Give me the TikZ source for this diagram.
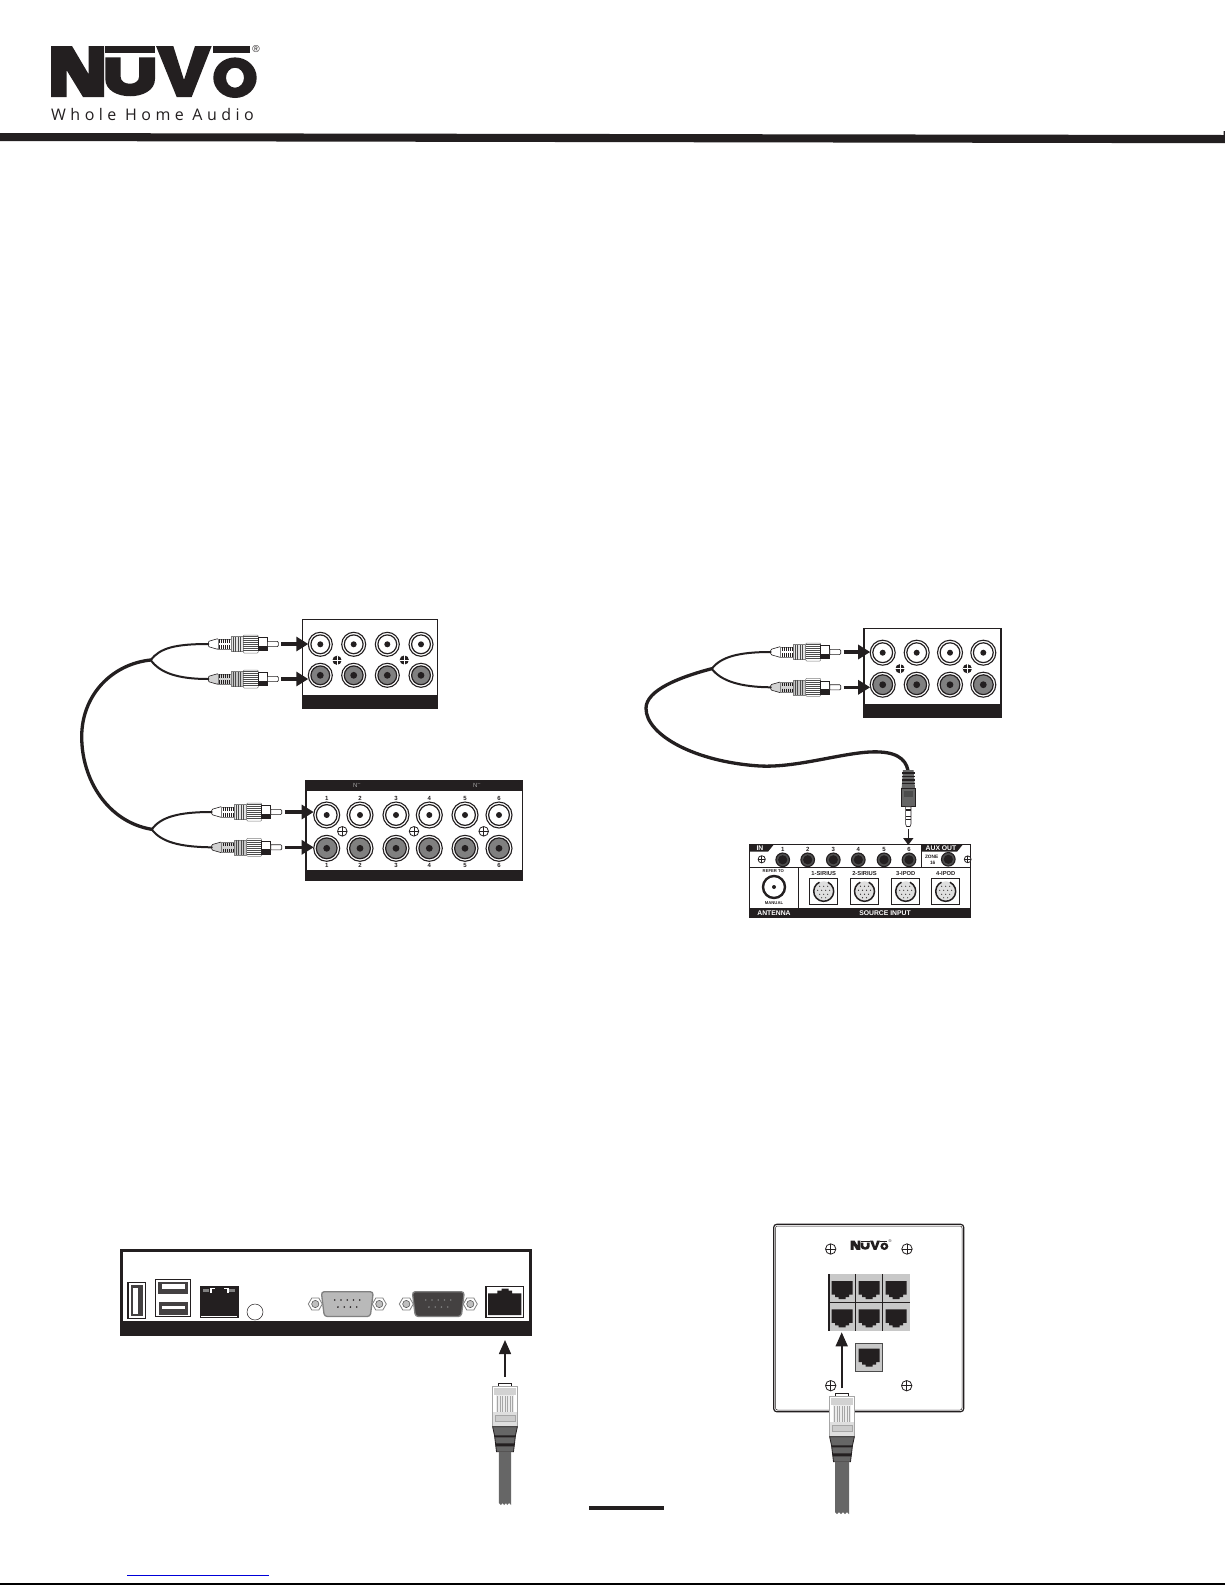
\documentclass[tikz,border=0pt]{standalone}
\usepackage{fontspec}
\setmainfont{Liberation Sans}
\newfontfamily\logofont[LetterSpace=28]{Open Sans}
\usetikzlibrary{arrows.meta}
\definecolor{ink}{HTML}{231F20}
\definecolor{jackgray}{HTML}{808080}
\definecolor{cablegray}{HTML}{666666}
\definecolor{plategray}{HTML}{C8C8C8}
\tikzset{
  panel/.style={draw=ink,line width=1.5pt,fill=white},
  blackbar/.style={fill=ink,draw=none},
  wire/.style={draw=ink,line width=2pt,line cap=round},
  mainwire/.style={draw=ink,line width=3.3pt,line cap=round},
  fatarrow/.style={draw=ink,line width=3.2pt,-{Triangle[length=12pt,width=14pt]},shorten <=3pt},
  thinarrow/.style={draw=ink,line width=1.6pt,-{Triangle[length=14pt,width=12pt]}},
  miniarrow/.style={draw=ink,line width=1.6pt,-{Triangle[length=7pt,width=10pt]}},
  lab/.style={font=\fontsize{5.8}{6}\selectfont\bfseries,text=ink,inner sep=0pt},
  wlab/.style={font=\fontsize{6.8}{7}\selectfont\bfseries,text=white,inner sep=0pt},
  num/.style={font=\fontsize{6}{6}\selectfont\bfseries,text=ink,inner sep=0pt},
  jacknode/.style={circle,draw=ink,line width=1.1pt,inner sep=0pt,outer sep=0pt},
}
% white RCA jack: name,x,y,r
\newcommand\rcaW[4]{%
  \node[jacknode,fill=white,minimum size=#4*2pt] (#1) at (#2,#3) {};
  \draw[ink,line width=1.2pt] (#2,#3) circle[radius=#4-2.6];
  \fill[ink] (#2,#3) circle[radius=3];}
% gray RCA jack
\newcommand\rcaG[4]{%
  \node[jacknode,fill=white,minimum size=#4*2pt] (#1) at (#2,#3) {};
  \draw[ink,line width=1.2pt,fill=jackgray] (#2,#3) circle[radius=#4-2.6];
  \fill[ink] (#2,#3) circle[radius=3.4];}
% screws
\newcommand\screwB[2]{%
  \fill[ink] (#1,#2) circle[radius=4.6];
  \draw[white,line width=.9pt] (#1-4.6,#2) -- (#1+4.6,#2) (#1,#2-4.6) -- (#1,#2+4.6);}
\newcommand\screwO[3]{%
  \draw[ink,line width=.8pt,fill=white] (#1,#2) circle[radius=#3];
  \draw[ink,line width=.9pt] (#1-#3,#2) -- (#1+#3,#2) (#1,#2-#3) -- (#1,#2+#3);}
% RCA plug: name,x,y,boot colour,fin colour
\newcommand\rcaplug[5]{%
  \begin{scope}[shift={(#2,#3)}]
    \coordinate (#1-tail) at (0,0);
    \coordinate (#1-tip) at (70,0);
    \draw[ink,line width=.6pt,fill=#4,rounded corners=1pt] (0,-2.6) -- (10,-5.5) -- (10,5.5) -- (0,2.6) -- cycle;
    \draw[gray,line width=.5pt,fill=#4] (10,-5) rectangle (23,5);
    \foreach \q in {11.5,13.5,...,21.5}{
      \draw[ink,line width=1pt] (\q,-4.6) -- (\q,-1.4) (\q,1.4) -- (\q,4.6);}
    \draw[gray,line width=.5pt,fill=#5] (23,-7.5) rectangle (35,7.5);
    \foreach \q in {24.5,27,...,34.5}{
      \draw[gray!60!black,line width=.5pt] (\q,-7.5) -- (\q,7.5);}
    \draw[gray,line width=.5pt,fill=white,rounded corners=1pt] (35,-9) rectangle (50,9);
    \foreach \q in {-7.5,-5.5,...,8}{
      \draw[gray!60!black,line width=.5pt] (35,\q) -- (50,\q);}
    \draw[ink,line width=.6pt,fill=white] (50,-6.5) rectangle (59,6.5);
    \fill[ink] (50,2) rectangle (59,6.5);
    \draw[ink,line width=.6pt,fill=white] (59,-2.6) -- (69,-2.6) -- (70,-1.6) -- (70,1.6) -- (69,2.6) -- (59,2.6) -- cycle;
  \end{scope}}
% NUVO logo
\newcommand\nuvologo[3]{%
  \begin{scope}[shift={(#1,#2)},scale=#3]
    \fill[ink] (0,0) -- (21,0) -- (37.5,28) -- (37.5,0) -- (53,0) -- (53,51) -- (32,51) -- (15.5,24) -- (15.5,51) -- (0,51) -- cycle;
    \fill[ink] (54.3,0) rectangle (104,7.3);
    \fill[ink] (54.3,11.3) -- (69.7,11.3) -- (69.7,31) .. controls (69.7,40) and (88,40) .. (88,31) -- (88,11.3) -- (104,11.3) -- (104,33) .. controls (104,56) and (54.3,56) .. (54.3,33) -- cycle;
    \fill[ink] (105,0) -- (122.3,0) -- (133,34) -- (144,0) -- (160.7,0) -- (140.7,51) -- (125.7,51) -- cycle;
    \fill[ink] (162.3,0) rectangle (199,7.3);
    \fill[ink,even odd rule] (184,31.7) ellipse[x radius=21.7,y radius=20.3] (184,31.7) ellipse[x radius=9,y radius=10];
  \end{scope}}
% RJ45 plug: name, centre x, top y, cable end y, cable half width
\newcommand\rjplug[5]{%
  \begin{scope}[shift={(#2,#3)}]
    \coordinate (#1-top) at (0,0);
    \draw[ink,line width=.7pt,fill=white] (-6.2,0) rectangle (6.2,3.4);
    \draw[gray!70,line width=.6pt,fill=white] (-12.4,3.2) rectangle (12.4,43.4);
    \fill[gray!35] (-11,4.5) rectangle (11,12);
    \fill[gray!15] (-9,12) rectangle (9,29);
    \foreach \q in {-7.5,-5,...,8}{\draw[gray!70,line width=.6pt] (\q,13) -- (\q,29);}
    \fill[gray!25] (-12,29) rectangle (12,43);
    \draw[gray!70,line width=.5pt,fill=gray!40] (-10,31.5) rectangle (10,37.5);
    \draw[ink,line width=.8pt,fill=cablegray] (-12.4,43.4) -- (12.4,43.4) -- (10.5,52) -- (8.5,68.4) -- (-8.5,68.4) -- (-10.5,52) -- cycle;
    \fill[ink] (-10.5,52) -- (10.5,52) -- (10,54) -- (-10,54) -- cycle;
    \fill[ink] (-9.5,60) -- (9.5,60) -- (9.2,63) -- (-9.2,63) -- cycle;
    \fill[cablegray] (-#5,68.4) -- (#5,68.4) -- (#5,#4-#3) -- (#5-2,#4-#3-2) -- (#5-4,#4-#3) -- (1,#4-#3-2) -- (-1,#4-#3) -- (-#5+4,#4-#3-2) -- (-#5+2,#4-#3) -- (-#5,#4-#3-2) -- cycle;
  \end{scope}}
% wall-plate hole
\newcommand\wallhole[2]{%
  \fill[ink,shift={(#1,#2)}] (-10.5,-8) -- (10.5,-8) -- (10.5,5.5) -- (7,5.5) -- (7,8) -- (3.5,8) -- (3.5,10) -- (-3.5,10) -- (-3.5,8) -- (-7,8) -- (-7,5.5) -- (-10.5,5.5) -- cycle;}
% 3.5mm jack
\newcommand\minijack[3]{%
  \node[jacknode,fill=jackgray!60!black,minimum size=13.6pt] (#1) at (#2,#3) {};
  \fill[ink] (#2,#3) circle[radius=4.6];}
% DIN port: centre x, half width
\newcommand\dinport[2]{%
  \draw[ink,line width=.9pt,fill=white] (#1-#2,878.3) rectangle (#1+#2,904.3);
  \fill[gray!25] (#1,891.3) circle[radius=10];
  \draw[ink,line width=1.5pt] (#1,891.3) ++(-65:10) arc[start angle=-65,end angle=245,radius=10];
  \foreach \q/\r in {-4/-5,0/-5,4/-5,-6/-1,-2/-1,2/-1,6/-1,-4/3,0/3,4/3,-2/6.5,2/6.5}{
    \fill[ink] (#1+\q,891.3+\r) circle[radius=.6];}}
% DB9: cx, fill, dot colour
\newcommand\dbnine[3]{%
  \draw[gray,line width=1.3pt,fill=#2,rounded corners=3pt] (#1-26,1291.7) -- (#1+26,1291.7) -- (#1+23,1316.5) -- (#1-23,1316.5) -- cycle;
  \foreach \q in {-12.5,-6.25,0,6.25,12.5}{\fill[#3] (#1+\q,1300) circle[radius=.9];}
  \foreach \q in {-9.4,-3.1,3.1,9.4}{\fill[#3] (#1+\q,1307) circle[radius=.9];}
  \foreach \q in {-32,32}{
    \draw[gray,line width=.8pt,fill=white,shift={(#1+\q,1304)}] (-7,0) -- (-3.5,-6) -- (3.5,-6) -- (7,0) -- (3.5,6) -- (-3.5,6) -- cycle;
    \draw[gray!70!black,line width=.6pt,fill=gray!50] (#1+\q,1304) circle[radius=3.6];}}
\begin{document}
\begin{tikzpicture}[x=1pt,y=-1pt]
\useasboundingbox (0,0) rectangle (1225,1585);
\fill[white] (0,0) rectangle (1225,1585);
%% header
\nuvologo{51}{46}{1}
\node[inner sep=0pt,text=ink,font=\fontsize{10}{10}\selectfont] (reg) at (256,49) {®};
\node[anchor=base west,inner sep=0pt,text=ink,font=\logofont\fontsize{16}{16}\selectfont] (tagline) at (51,120.5) {Whole Home Audio};
\fill[ink] (0,133) -- (1223.5,135) -- (1223.5,131) -- (1225,131) -- (1225,143.2) -- (0,141) -- cycle;
%% panel A
\draw[panel] (302.3,619.3) rectangle (437.7,708.7);
\fill[blackbar] (302.3,695) rectangle (437.7,708.7);
\rcaW{a1}{320.3}{644.3}{12}\rcaW{a2}{353.7}{644.3}{12}\rcaW{a3}{387.3}{644.3}{12}\rcaW{a4}{421}{644.3}{12}
\rcaG{a5}{320.3}{675.3}{12}\rcaG{a6}{353.7}{675.3}{12}\rcaG{a7}{387.3}{675.3}{12}\rcaG{a8}{421}{675.3}{12}
\screwB{337}{660.3}\screwB{404.3}{660}
%% panel B
\draw[panel] (306,781) rectangle (522.7,880.7);
\fill[blackbar] (306,781) rectangle (522.7,790.7);
\fill[blackbar] (306,870) rectangle (522.7,880.7);
\node[inner sep=0pt,text=gray!70,font=\fontsize{6}{6}\selectfont] (bin1) at (357,785.6) {N\textsuperscript{--}};
\node[inner sep=0pt,text=gray!70,font=\fontsize{6}{6}\selectfont] (bin2) at (477,785.6) {N\textsuperscript{--}};
\foreach \n/\xx/\s in {1/326.7/1,2/360/2,3/396/3,4/429.3/4,5/465/5,6/499/6}{
  \rcaW{bt\n}{\xx}{815}{13}
  \rcaG{bb\n}{\xx}{848.3}{13}
  \node[num] (btl\n) at (\xx,798.3) {\s};
  \node[num] (bbl\n) at (\xx,865.8) {\s};
}
\screwO{342.3}{831.3}{4.8}\screwO{414}{831.3}{4.8}\screwO{483.7}{831.3}{4.8}
%% plugs and cable, left
\rcaplug{p1}{208.3}{644}{white}{gray!20}
\rcaplug{p2}{208.3}{679}{gray!35}{gray!45}
\rcaplug{p3}{211.7}{812}{white}{gray!20}
\rcaplug{p4}{211.7}{847.3}{gray!35}{gray!45}
\coordinate (j1) at (150.7,660);
\coordinate (j2) at (151.7,829.3);
\draw[wire] (j1) .. controls (160,648) and (175,644) .. (p1-tail);
\draw[wire] (j1) .. controls (160,673) and (178,679) .. (p2-tail);
\draw[wire] (j2) .. controls (161,817) and (178,812) .. (p3-tail);
\draw[wire] (j2) .. controls (161,842) and (180,847) .. (p4-tail);
\draw[mainwire] (j1) .. controls (112,664) and (81.7,695) .. (81.7,736.7) .. controls (81.7,780) and (108,822) .. (j2);
\draw[fatarrow] (p1-tip) -- (p1-tip -| a1.west);
\draw[fatarrow] (p2-tip) -- (p2-tip -| a5.west);
\draw[fatarrow] (p3-tip) -- (p3-tip -| bt1.west);
\draw[fatarrow] (p4-tip) -- (p4-tip -| bb1.west);
%% panel C
\draw[panel] (864,628.3) rectangle (1001,717.7);
\fill[blackbar] (864,704) rectangle (1001,717.7);
\rcaW{c1}{882.7}{652.7}{12.5}\rcaW{c2}{916.7}{652.7}{12.5}\rcaW{c3}{950}{652.7}{12.5}\rcaW{c4}{983.3}{652.7}{12.5}
\rcaG{c5}{882.7}{684.7}{12.5}\rcaG{c6}{916.7}{684.7}{12.5}\rcaG{c7}{950}{684.7}{12.5}\rcaG{c8}{983.3}{684.7}{12.5}
\screwB{900}{668.7}\screwB{967.3}{668.7}
\rcaplug{p5}{770.7}{652}{white}{gray!20}
\rcaplug{p6}{770.7}{687.3}{gray!35}{gray!45}
\coordinate (j3) at (711.7,668.7);
\coordinate (mt) at (908.3,775);
\draw[wire] (j3) .. controls (721,657) and (738,652) .. (p5-tail);
\draw[wire] (j3) .. controls (721,681) and (740,687) .. (p6-tail);
\draw[mainwire] (j3) .. controls (680,677) and (646,690) .. (646,708.3) .. controls (646,735) and (695,762) .. (760,766) .. controls (800,768) and (850,750) .. (880,752) .. controls (900,753) and (908.3,762) .. (mt);
\draw[fatarrow] (p5-tip) -- (p5-tip -| c1.west);
\draw[fatarrow] (p6-tip) -- (p6-tip -| c5.west);
% mini plug
\fill[cablegray] (903,770) -- (913.6,770) -- (915,788.5) -- (901.6,788.5) -- cycle;
\foreach \q in {773,776.5,780,783.5}{\draw[ink,line width=1.2pt] (902,\q) -- (914.5,\q);}
\draw[ink,line width=.7pt,fill=cablegray] (901.2,788.3) rectangle (915.4,806.7);
\fill[gray!60!black] (903.5,790.5) rectangle (913,797);
\draw[ink,line width=.6pt,fill=white] (905.6,806.7) -- (911,806.7) -- (911,824) -- (910,826.5) -- (906.6,826.5) -- (905.6,824) -- cycle;
\draw[ink,line width=1.2pt] (905.6,810) -- (911,810);
\draw[ink,line width=.8pt] (905.6,816) -- (911,816) (905.6,819) -- (911,819);
\coordinate (mtip) at (908.3,829);
\coordinate (dtop) at (908.3,845);
%% panel D
\draw[ink,line width=1.3pt,fill=white] (749.3,844.3) rectangle (970.7,917.7);
\fill[blackbar] (749.3,907.7) rectangle (970.7,917.7);
\fill[ink] (749.3,844.3) -- (774,844.3) -- (768,851.7) -- (749.3,851.7) -- cycle;
\fill[ink] (921.7,844.3) -- (963,844.3) -- (957,851.7) -- (921.7,851.7) -- cycle;
\draw[ink,line width=1pt] (749.3,867.7) -- (970.7,867.7);
\draw[ink,line width=1pt] (921.7,844.3) -- (921.7,867.7);
\draw[ink,line width=1pt] (798.3,867.7) -- (798.3,907.7);
\node[wlab] (dIN) at (760,848) {IN};
\node[wlab] (dAUX) at (941,848) {AUX OUT};
\node[font=\fontsize{4.8}{5}\selectfont\bfseries,text=ink,inner sep=0pt] (dzone) at (931.7,856.7) {ZONE};
\node[font=\fontsize{4.8}{5}\selectfont\bfseries,text=ink,inner sep=0pt] (dsixteen) at (932.7,863.3) {16};
\foreach \n/\xx in {1/782.7,2/807.7,3/833.3,4/858.3,5/884,6/909}{
  \minijack{dj\n}{\xx}{859.8}
  \node[num] (djl\n) at (\xx,849) {\n};
}
\minijack{djaux}{948.3}{859.3}
\screwO{761.7}{859.3}{3.6}\screwO{967.7}{859.3}{3.4}
\node[lab,font=\fontsize{4.2}{5}\selectfont\bfseries] (drefer) at (773.3,871) {REFER TO};
\draw[ink,line width=2.4pt] (774,887) circle[radius=11];
\fill[ink] (774,887) circle[radius=2];
\node[lab,font=\fontsize{4.2}{5}\selectfont\bfseries] (dmanual) at (774,903.5) {MANUAL};
\node[wlab] (dant) at (774,912.8) {ANTENNA};
\node[wlab] (dsrc) at (885,912.8) {SOURCE INPUT};
\foreach \n/\xx/\tt in {a/823.7/1-SIRIUS,b/864.5/2-SIRIUS,c/905.7/3-IPOD,d/945.7/4-IPOD}{
  \node[lab] (dl\n) at (\xx,873.5) {\tt};
  \dinport{\xx}{14}
}
\draw[miniarrow] (mtip) -- (dtop);
%% panel E
\draw[ink,line width=2.8pt,fill=white] (121.4,1250.4) rectangle (530.6,1334);
\fill[blackbar] (120,1321) rectangle (532,1336);
% single usb
\draw[ink,line width=1.1pt] (128,1282.7) rectangle (145.7,1318.7);
\fill[ink!85] (130.7,1285.3) rectangle (143.3,1316);
\fill[white] (133.3,1288.3) rectangle (138,1314);
% dual usb
\draw[ink,line width=1.1pt] (155.3,1279.3) rectangle (190.7,1316.7);
\fill[ink!85] (158,1282) rectangle (188,1294);
\fill[ink!85] (158.7,1302) rectangle (188,1315);
\fill[white] (162,1284.3) rectangle (185.3,1288.7);
\fill[white] (162,1306) rectangle (185.3,1309);
% ethernet with leds
\draw[ink,line width=1.2pt,fill=ink] (200.6,1286.6) rectangle (238,1317);
\fill[white] (201.3,1315.5) rectangle (237.4,1316.3);
\fill[gray] (203.3,1289.3) rectangle (209.3,1291.7);
\fill[gray] (229.3,1289.3) rectangle (235.3,1291.7);
\draw[white,line width=1.2pt] (211,1292.5) -- (211,1288.8) -- (215,1288.8);
\draw[white,line width=1.2pt] (224,1288.8) -- (228,1288.8) -- (228,1292.5);
% power hole
\draw[ink,line width=.5pt,fill=white] (255,1312) circle[radius=8];
% db9s
\dbnine{347.3}{gray!55}{ink}
\dbnine{438.3}{ink!85}{gray}
% rj port
\draw[ink,line width=1.2pt] (485.9,1286.6) rectangle (523.4,1317.1);
\fill[ink] (488,1293.3) -- (497.3,1293.3) -- (497.3,1290.5) -- (501.5,1290.5) -- (501.5,1288.7) -- (508.5,1288.7) -- (508.5,1290.5) -- (512,1290.5) -- (512,1293.3) -- (521.3,1293.3) -- (521.3,1315) -- (488,1315) -- cycle;
\coordinate (eport) at (505,1340);
\coordinate (etail) at (505,1376.7);
\rjplug{re}{505}{1383.3}{1505}{6.2}
\draw[thinarrow] (etail) -- (eport);
%% panel F
\draw[ink,line width=1.2pt,rounded corners=3pt] (773.7,1224.3) rectangle (963.7,1411.7);
\draw[ink,line width=.5pt,rounded corners=2pt] (775.5,1226) rectangle (962,1410);
\nuvologo{850.7}{1240.5}{.183}
\node[inner sep=0pt,text=ink,font=\fontsize{4}{4}\selectfont] (reg2) at (890,1241) {®};
\screwO{830.7}{1249}{5.2}\screwO{907}{1249}{5.2}\screwO{830.7}{1385.7}{5.2}\screwO{906.7}{1385.7}{5.2}
\fill[plategray] (828.3,1274) rectangle (909.7,1330.7);
\fill[ink] (828.3,1274) rectangle (829.6,1330.7);
\foreach \xx in {855.7,882.3}{\draw[ink,line width=1pt] (\xx,1274) -- (\xx,1330.7);}
\draw[ink,line width=.8pt] (828.3,1302.3) -- (909.7,1302.3);
\foreach \xx in {842,869,896}{\wallhole{\xx}{1289}\wallhole{\xx}{1317.3}}
\draw[gray!60!black,line width=.6pt,fill=plategray] (855.7,1343.3) rectangle (882.7,1371.7);
\wallhole{869}{1356.7}
\coordinate (fport) at (841.7,1332.3);
\coordinate (ftail) at (841.7,1388.3);
\rjplug{rf}{842}{1393.3}{1514}{7}
\draw[thinarrow] (ftail) -- (fport);
%% footer
\fill[ink] (589,1506) rectangle (664,1510);
\draw[blue!85!black,line width=1pt] (127,1575) -- (269,1575);
\draw[black,line width=1.6pt] (0,1584.2) -- (1225,1584.2);
\end{tikzpicture}
\end{document}
